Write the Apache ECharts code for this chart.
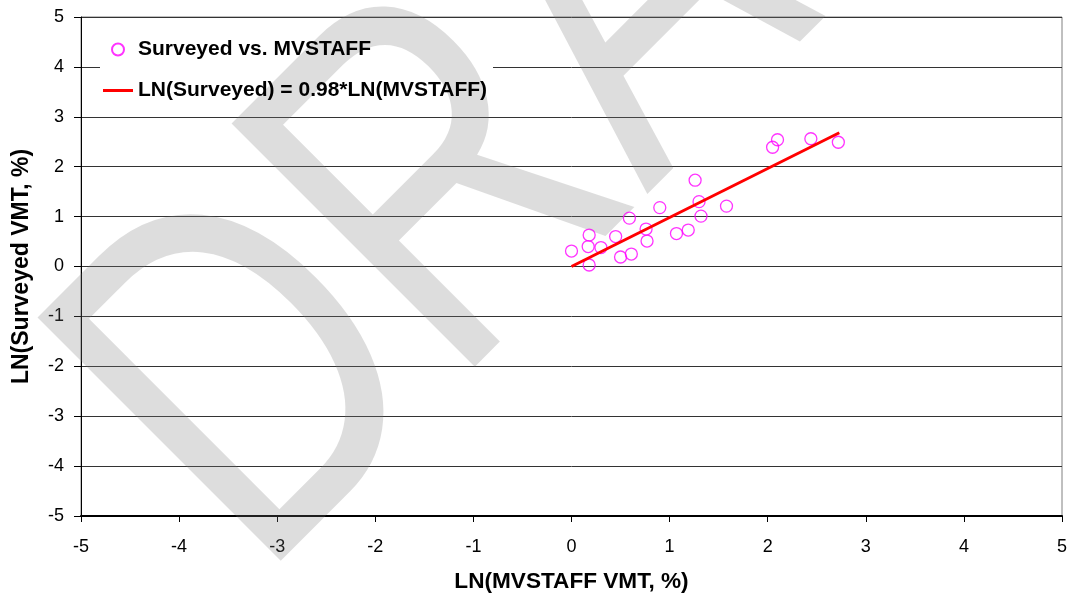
<!DOCTYPE html>
<html>
<head>
<meta charset="utf-8">
<title>LN(Surveyed) vs LN(MVSTAFF)</title>
<script src="https://cdn.jsdelivr.net/npm/echarts@6/dist/echarts.min.js"></script>
<style>
    html, body { margin: 0; padding: 0; background: #fff; }
    #chart { width: 1070px; height: 594px; }
</style>
</head>
<body>
<div id="chart"></div>
<script>
// observed points, LN of VMT share (%)
var mvstaffLn = [0.00, 0.18, 0.17, 0.18, 0.30, 0.45, 0.50, 0.61, 0.59, 0.76, 0.77,
                 0.90, 1.07, 1.19, 1.26, 1.30, 1.32, 1.58, 2.05, 2.10, 2.44, 2.72];
var surveyedLn = [0.31, 0.63, 0.40, 0.03, 0.38, 0.60, 0.19, 0.25, 0.97, 0.75, 0.51,
                  1.18, 0.66, 0.73, 1.73, 1.30, 1.01, 1.21, 2.39, 2.54, 2.56, 2.49];

// fitted line end points
var fitX = [0.00, 2.73];
var fitY = [0.00, 2.68];

var scatterName = 'Surveyed vs. MVSTAFF';
var fitName = 'LN(Surveyed) = 0.98*LN(MVSTAFF)';
var axisTicks = [-5, 5, 1]; // min, max, step

var font = '"Liberation Sans", Arial, sans-serif';

var pairs = function(xs, ys) {
    return xs.map(function(x, i) { return [x, ys[i]]; });
};

var chart = echarts.init(document.getElementById('chart'), null, { renderer: 'canvas' });

var option = {
    animation: false,
    backgroundColor: '#fff',
    textStyle: { fontFamily: font },
    grid: {
        left: 81, right: 8, top: 17, bottom: 78,
        containLabel: false,
        outerBoundsMode: 'none',
        show: true,
        borderColor: '#808080',
        borderWidth: 1
    },
    legend: {
        orient: 'vertical',
        left: 98,
        top: 34,
        itemWidth: 30,
        itemHeight: 12,
        itemGap: 20,
        textStyle: { fontSize: 21, fontWeight: 'bold', color: '#000', fontFamily: font },
        data: [
            { name: scatterName },
            { name: fitName, icon: 'path://M0,0L30,0L30,3L0,3Z' }
        ]
    },
    xAxis: {
        type: 'value',
        min: axisTicks[0], max: axisTicks[1], interval: axisTicks[2],
        name: 'LN(MVSTAFF VMT, %)',
        nameLocation: 'middle',
        nameGap: 54,
        nameTextStyle: { fontSize: 22.6, fontWeight: 'bold', color: '#000', fontFamily: font },
        axisLine: { onZero: false, lineStyle: { color: '#000', width: 2 } },
        axisTick: { inside: false, length: 6, lineStyle: { color: '#000' } },
        axisLabel: { fontSize: 18, color: '#000', margin: 22, fontFamily: font },
        splitLine: { show: false }
    },
    yAxis: {
        type: 'value',
        min: axisTicks[0], max: axisTicks[1], interval: axisTicks[2],
        name: 'LN(Surveyed VMT, %)',
        nameLocation: 'middle',
        nameGap: 48,
        nameRotate: 90,
        nameTextStyle: { fontSize: 23, fontWeight: 'bold', color: '#000', fontFamily: font },
        axisLine: { onZero: false, lineStyle: { color: '#000', width: 1 } },
        axisTick: { inside: false, length: 7, lineStyle: { color: '#000' } },
        axisLabel: { fontSize: 18, color: '#000', margin: 17, fontFamily: font },
        splitLine: { show: true, lineStyle: { color: '#333', width: 1 } }
    },
    graphic: [
        {
            // white box behind the legend, the watermark still shows over it
            type: 'rect',
            z: 1,
            shape: { x: 100, y: 30, width: 393, height: 76 },
            style: { fill: '#fff' }
        },
        {
            // condensed DRAFT stamp at 45 degrees
            type: 'text',
            z: 1.5,
            x: 338, y: 662,
            rotation: Math.PI / 4,
            scaleX: 0.76,
            silent: true,
            style: {
                text: 'DRAFT',
                font: '500px "Liberation Sans", Arial, sans-serif',
                fill: 'rgba(120,120,120,0.25)',
                align: 'left',
                verticalAlign: 'bottom'
            }
        }
    ],
    series: [
        {
            name: scatterName,
            type: 'scatter',
            symbol: 'circle',
            symbolSize: 12,
            itemStyle: { color: 'rgba(255,255,255,0)', borderColor: '#ff00ff', borderWidth: 1.3 },
            data: pairs(mvstaffLn, surveyedLn)
        },
        {
            name: fitName,
            type: 'line',
            symbol: 'none',
            z: 3,
            lineStyle: { color: '#ff0000', width: 3 },
            itemStyle: { color: '#ff0000' },
            data: pairs(fitX, fitY)
        }
    ]
};

chart.setOption(option);
</script>
</body>
</html>
